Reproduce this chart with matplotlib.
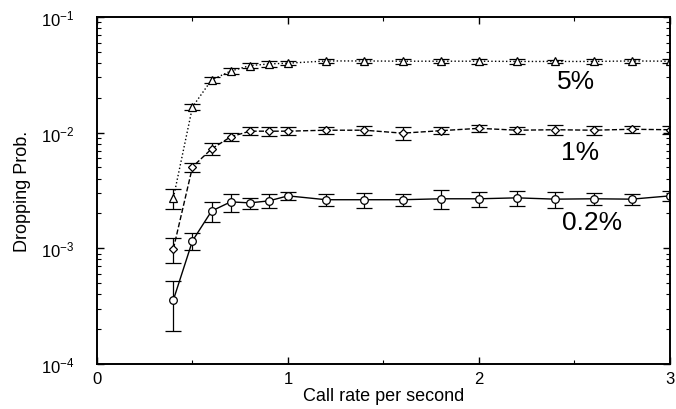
import matplotlib
matplotlib.use('Agg')
import matplotlib.pyplot as plt
import numpy as np
from matplotlib.ticker import LogLocator, MultipleLocator, FixedLocator

plt.rcParams['font.family'] = ['Liberation Sans', 'DejaVu Sans']
plt.rcParams['mathtext.fontset'] = 'custom'
plt.rcParams['mathtext.rm'] = 'Liberation Sans'
plt.rcParams['mathtext.it'] = 'Liberation Sans'

rate = [0.4, 0.5, 0.6, 0.7, 0.8, 0.9, 1.0, 1.2, 1.4, 1.6, 1.8, 2.0, 2.2, 2.4, 2.6, 2.8, 3.0]

# 5% handoff target
drop_5 = [2.73e-3, 1.67e-2, 2.86e-2, 3.41e-2, 3.80e-2, 3.93e-2, 3.99e-2, 4.17e-2, 4.17e-2,
          4.15e-2, 4.15e-2, 4.15e-2, 4.13e-2, 4.13e-2, 4.13e-2, 4.17e-2, 4.15e-2]
err_5 = [0.55e-3, 0.10e-2, 0.17e-2, 0.20e-2, 0.20e-2, 0.20e-2, 0.18e-2, 0.20e-2, 0.18e-2,
         0.20e-2, 0.18e-2, 0.20e-2, 0.20e-2, 0.15e-2, 0.18e-2, 0.15e-2, 0.18e-2]

# 1%
drop_1 = [9.9e-4, 5.06e-3, 7.24e-3, 9.2e-3, 1.03e-2, 1.03e-2, 1.03e-2, 1.05e-2, 1.05e-2,
          0.99e-2, 1.04e-2, 1.09e-2, 1.05e-2, 1.06e-2, 1.05e-2, 1.07e-2, 1.06e-2]
err_1 = [0.24e-3, 0.45e-3, 0.85e-3, 0.08e-2, 0.08e-2, 0.09e-2, 0.08e-2, 0.08e-2, 0.09e-2,
         0.13e-2, 0.07e-2, 0.08e-2, 0.08e-2, 0.10e-2, 0.09e-2, 0.07e-2, 0.08e-2]

# 0.2%
drop_02 = [3.58e-4, 1.16e-3, 2.10e-3, 2.52e-3, 2.47e-3, 2.57e-3, 2.84e-3, 2.63e-3, 2.63e-3,
           2.63e-3, 2.68e-3, 2.68e-3, 2.73e-3, 2.66e-3, 2.68e-3, 2.66e-3, 2.84e-3]
err_02 = [1.65e-4, 0.20e-3, 0.40e-3, 0.45e-3, 0.27e-3, 0.35e-3, 0.20e-3, 0.30e-3, 0.40e-3,
          0.33e-3, 0.50e-3, 0.40e-3, 0.40e-3, 0.43e-3, 0.33e-3, 0.28e-3, 0.30e-3]

series = [
    (drop_5, err_5, ':', '^', '5%', (2.51, 0.028)),
    (drop_1, err_1, '--', 'D', '1%', (2.53, 0.0068)),
    (drop_02, err_02, '-', 'o', '0.2%', (2.59, 0.00169)),
]

fig = plt.figure(figsize=(6.76, 4.10), dpi=100)
ax = fig.add_axes([0.1435, 0.110, 0.8475, 0.846])

for vals, errs, ls, mk, label, pos in series:
    ms = 4 if mk == 'D' else 5.5
    ax.errorbar(rate, vals, yerr=errs, color='black', linestyle=ls, linewidth=1.0,
                marker=mk, markersize=ms, markerfacecolor='white', markeredgewidth=0.9,
                ecolor='black', elinewidth=0.9, capsize=6, capthick=1.2)
    ax.text(pos[0], pos[1], label, fontsize=19, ha='center', va='center')

ax.set_yscale('log')
ax.set_xlim(0, 3)
ax.set_ylim(1e-4, 1e-1)
ax.xaxis.set_major_locator(FixedLocator([0, 1, 2, 3]))
ax.xaxis.set_minor_locator(MultipleLocator(0.5))
ax.yaxis.set_major_locator(LogLocator(base=10, numticks=10))
ax.yaxis.set_minor_locator(LogLocator(base=10, subs=np.arange(2, 10), numticks=20))

ax.tick_params(which='both', direction='in', top=True, right=True, labelsize=12)
ax.tick_params(axis='x', pad=5)
ax.tick_params(axis='y', pad=16)
ax.tick_params(which='major', length=5, width=1.0)
ax.tick_params(which='minor', length=3, width=0.8)
for sp in ax.spines.values():
    sp.set_linewidth(1.4)

ax.set_xlabel('Call rate per second', fontsize=13, labelpad=1)
ax.set_ylabel('Dropping Prob.', fontsize=13, labelpad=7)

fig.savefig('out.png', dpi=100)
